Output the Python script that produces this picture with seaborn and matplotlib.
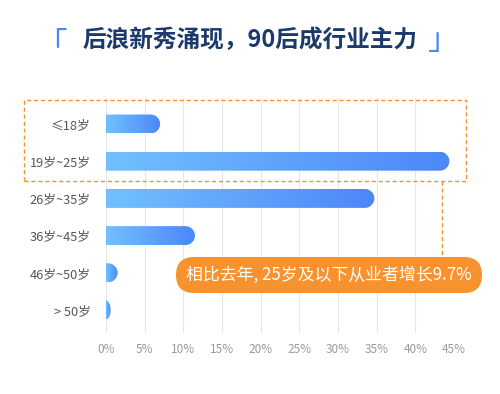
import matplotlib
matplotlib.use("Agg")
import matplotlib.pyplot as plt
import numpy as np
import seaborn as sns
from matplotlib.colors import LinearSegmentedColormap
from matplotlib.patches import FancyBboxPatch, PathPatch, Rectangle
from matplotlib.path import Path
from matplotlib.lines import Line2D

# 数据
age_groups = ["≤18岁", "19岁~25岁", "26岁~35岁", "36岁~45岁", "46岁~50岁", "> 50岁"]
shares = [7.0, 44.4, 34.7, 11.5, 1.5, 0.6]
x_ticks = [0, 5, 10, 15, 20, 25, 30, 35, 40, 45]
x_tick_labels = [f"{v}%" for v in x_ticks]
title = "后浪新秀涌现，90后成行业主力"
callout = "相比去年, 25岁及以下从业者增长9.7%"

BAR_CMAP = LinearSegmentedColormap.from_list("bar", ["#72C0FF", "#4C87F8"])
ORANGE = "#F7922F"

sns.set_theme(style="white")
plt.rcParams["font.family"] = ["Noto Sans CJK SC", "DejaVu Sans"]


def right_rounded_path(x0, x1, y0, y1, rx):
    """矩形右侧两角做成圆角（左侧平直）。"""
    rx = min(rx, x1 - x0)
    ry = (y1 - y0) / 2
    yc = y0 + ry
    k = 0.5523
    verts = [
        (x0, y0),
        (x1 - rx, y0),
        (x1 - rx + k * rx, y0), (x1, yc - k * ry), (x1, yc),
        (x1, yc + k * ry), (x1 - rx + k * rx, y1), (x1 - rx, y1),
        (x0, y1),
        (x0, y0),
    ]
    codes = [Path.MOVETO, Path.LINETO,
             Path.CURVE4, Path.CURVE4, Path.CURVE4,
             Path.CURVE4, Path.CURVE4, Path.CURVE4,
             Path.LINETO, Path.CLOSEPOLY]
    return Path(verts, codes)


fig = plt.figure(figsize=(5.0, 3.94), dpi=100)
fig.patch.set_facecolor("white")
ax = fig.add_axes([106 / 500, 1 - 333 / 394, 348 / 500, 235 / 394])

sns.barplot(x=shares, y=age_groups, orient="h", width=0.51, ax=ax)

ylim = (5 + 23 / 37.2, -26 / 37.2)
ax.set_xlim(0, 45)
ax.set_ylim(*ylim)

p0 = ax.transData.transform((0, 0))
p1 = ax.transData.transform((1, 1))
sx = abs(p1[0] - p0[0])
sy = abs(p1[1] - p0[1])

gradient = np.linspace(0, 1, 256).reshape(1, -1)
for bar in list(ax.patches):
    x0, y0 = bar.get_x(), bar.get_y()
    w, h = bar.get_width(), bar.get_height()
    bar.set_visible(False)
    rx = (h / 2) * sy / sx
    clip = PathPatch(right_rounded_path(x0, x0 + w, y0, y0 + h, rx),
                     transform=ax.transData, facecolor="none", edgecolor="none")
    ax.add_patch(clip)
    im = ax.imshow(gradient, cmap=BAR_CMAP, aspect="auto", interpolation="bicubic",
                   extent=(x0, x0 + w, y0 + h, y0), zorder=3)
    im.set_clip_path(clip)

ax.set_xlim(0, 45)
ax.set_ylim(*ylim)
ax.set_xticks(x_ticks)
ax.set_xticklabels(x_tick_labels)
ax.set_xlabel("")
ax.set_ylabel("")
ax.xaxis.grid(True, color="#E6E6E6", linewidth=0.8)
ax.yaxis.grid(False)
ax.set_axisbelow(True)
for spine in ax.spines.values():
    spine.set_visible(False)
ax.tick_params(axis="x", length=0, pad=7, labelsize=8.5, labelcolor="#9A9A9A")
ax.tick_params(axis="y", length=0, pad=11, labelsize=9.2, labelcolor="#555555")

# 标题
fig.text(2.5, 3.54, title, transform=fig.dpi_scale_trans, ha="center", va="center",
         fontsize=17, fontweight="bold", color="#1B3A6B")
fig.text(0.36, 3.49, "「", transform=fig.dpi_scale_trans, ha="left", va="center",
         fontsize=22, color="#4D87F0")
fig.text(4.58, 3.53, "」", transform=fig.dpi_scale_trans, ha="right", va="center",
         fontsize=22, color="#4D87F0")

# 虚线框和连接线（单位：英寸，dpi=100）
fig.patches.append(Rectangle((0.24, (394 - 181) / 100), 4.42, 0.81, fill=False,
                             edgecolor=ORANGE, linestyle=(0, (3, 2)), linewidth=1.0,
                             transform=fig.dpi_scale_trans))
fig.lines.append(Line2D([4.42, 4.42], [(394 - 181) / 100, (394 - 257) / 100],
                        color=ORANGE, linestyle=(0, (3, 2)), linewidth=1.0,
                        transform=fig.dpi_scale_trans))

# 橙色提示
fig.patches.append(FancyBboxPatch((1.76, 1.01), 3.06, 0.36,
                                  boxstyle="round,pad=0,rounding_size=0.18",
                                  facecolor=ORANGE, edgecolor="none",
                                  transform=fig.dpi_scale_trans))
fig.text(3.29, 1.19, callout, transform=fig.dpi_scale_trans, ha="center", va="center",
         fontsize=12.2, color="white")

fig.savefig("out.png", dpi=100)
